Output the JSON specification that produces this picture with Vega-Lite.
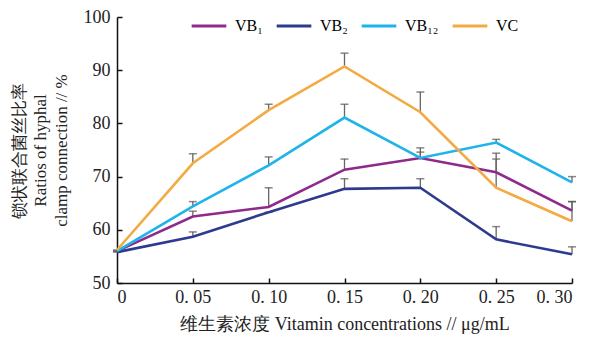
{
  "$schema": "https://vega.github.io/schema/vega-lite/v6.json",
  "width": 455,
  "height": 266,
  "autosize": "none",
  "padding": {"left": 117, "top": 17, "right": 35, "bottom": 57},
  "background": "#ffffff",
  "config": {
    "view": {"stroke": null},
    "font": "Liberation Serif",
    "axis": {"domainColor": "#111", "domainWidth": 1.5, "tickColor": "#111", "tickWidth": 1.5, "grid": false, "labelColor": "#222", "titleColor": "#222", "labelFont": "Liberation Serif", "titleFont": "Liberation Serif", "titleFontWeight": "normal"}
  },
  "data": {"values": [
    {"s": "VB₁", "c": 0, "v": 56.0, "hi": 56.0},
    {"s": "VB₁", "c": 0.05, "v": 62.5, "hi": 63.5},
    {"s": "VB₁", "c": 0.10, "v": 64.3, "hi": 67.9},
    {"s": "VB₁", "c": 0.15, "v": 71.3, "hi": 73.3},
    {"s": "VB₁", "c": 0.20, "v": 73.5, "hi": 74.6},
    {"s": "VB₁", "c": 0.25, "v": 70.8, "hi": 73.3},
    {"s": "VB₁", "c": 0.30, "v": 63.6, "hi": 65.3},
    {"s": "VB₂", "c": 0, "v": 55.8, "hi": 55.8},
    {"s": "VB₂", "c": 0.05, "v": 58.7, "hi": 59.6},
    {"s": "VB₂", "c": 0.10, "v": 63.3, "hi": 63.3},
    {"s": "VB₂", "c": 0.15, "v": 67.7, "hi": 69.6},
    {"s": "VB₂", "c": 0.20, "v": 67.9, "hi": 69.6},
    {"s": "VB₂", "c": 0.25, "v": 58.2, "hi": 60.6},
    {"s": "VB₂", "c": 0.30, "v": 55.4, "hi": 56.8},
    {"s": "VB₁₂", "c": 0, "v": 56.0, "hi": 56.0},
    {"s": "VB₁₂", "c": 0.05, "v": 64.4, "hi": 65.3},
    {"s": "VB₁₂", "c": 0.10, "v": 72.1, "hi": 73.7},
    {"s": "VB₁₂", "c": 0.15, "v": 81.1, "hi": 83.6},
    {"s": "VB₁₂", "c": 0.20, "v": 73.5, "hi": 75.4},
    {"s": "VB₁₂", "c": 0.25, "v": 76.4, "hi": 77.0},
    {"s": "VB₁₂", "c": 0.30, "v": 68.9, "hi": 70.0},
    {"s": "VC", "c": 0, "v": 56.2, "hi": 56.2},
    {"s": "VC", "c": 0.05, "v": 72.5, "hi": 74.3},
    {"s": "VC", "c": 0.10, "v": 82.5, "hi": 83.6},
    {"s": "VC", "c": 0.15, "v": 90.7, "hi": 93.2},
    {"s": "VC", "c": 0.20, "v": 82.1, "hi": 85.9},
    {"s": "VC", "c": 0.25, "v": 67.9, "hi": 74.4},
    {"s": "VC", "c": 0.30, "v": 61.6, "hi": 65.3}
  ]},
  "encoding": {
    "x": {"field": "c", "type": "quantitative", "scale": {"domain": [0, 0.3], "nice": false, "zero": false},
      "axis": {"values": [0, 0.05, 0.1, 0.15, 0.2, 0.25, 0.3], "tickSize": -5, "labelPadding": 10, "labelFontSize": 18,
        "labelExpr": "datum.value == 0 ? '0' : replace(format(datum.value, '.2f'), '.', '. ')",
        "title": "维生素浓度 Vitamin concentrations // μg/mL", "titleFontSize": 18, "titlePadding": 9}},
    "y": {"type": "quantitative", "scale": {"domain": [50, 100], "nice": false, "zero": false}}
  },
  "layer": [
    {
      "mark": {"type": "rule", "color": "#666", "strokeWidth": 1.3},
      "encoding": {"y": {"field": "v", "type": "quantitative"}, "y2": {"field": "hi"}}
    },
    {
      "mark": {"type": "tick", "orient": "horizontal", "color": "#555", "size": 8, "thickness": 1.5},
      "encoding": {"y": {"field": "hi", "type": "quantitative"}}
    },
    {
      "mark": {"type": "line", "strokeWidth": 2.6},
      "encoding": {
        "y": {"field": "v", "type": "quantitative",
          "axis": {"values": [50, 60, 70, 80, 90, 100], "tickSize": -5, "labelPadding": 12, "labelFontSize": 18,
            "title": ["锁状联合菌丝比率", "Ratios of hyphal", "clamp connection // %"], "titleFontSize": 17, "titlePadding": 13, "titleLineHeight": 21}},
        "color": {"field": "s", "type": "nominal", "sort": ["VB₁", "VB₂", "VB₁₂", "VC"],
          "scale": {"domain": ["VB₁", "VB₂", "VB₁₂", "VC"], "range": ["#8E2A8C", "#2D3A8E", "#1EB4EA", "#F4AA42"]},
          "legend": {"orient": "none", "legendX": 73, "legendY": -10, "direction": "horizontal", "columns": 4, "title": null,
            "symbolType": "stroke", "symbolSize": 1200, "symbolStrokeWidth": 3, "labelFontSize": 16, "labelFont": "Liberation Serif", "columnPadding": 7, "labelOffset": 7}}
      }
    }
  ]
}
